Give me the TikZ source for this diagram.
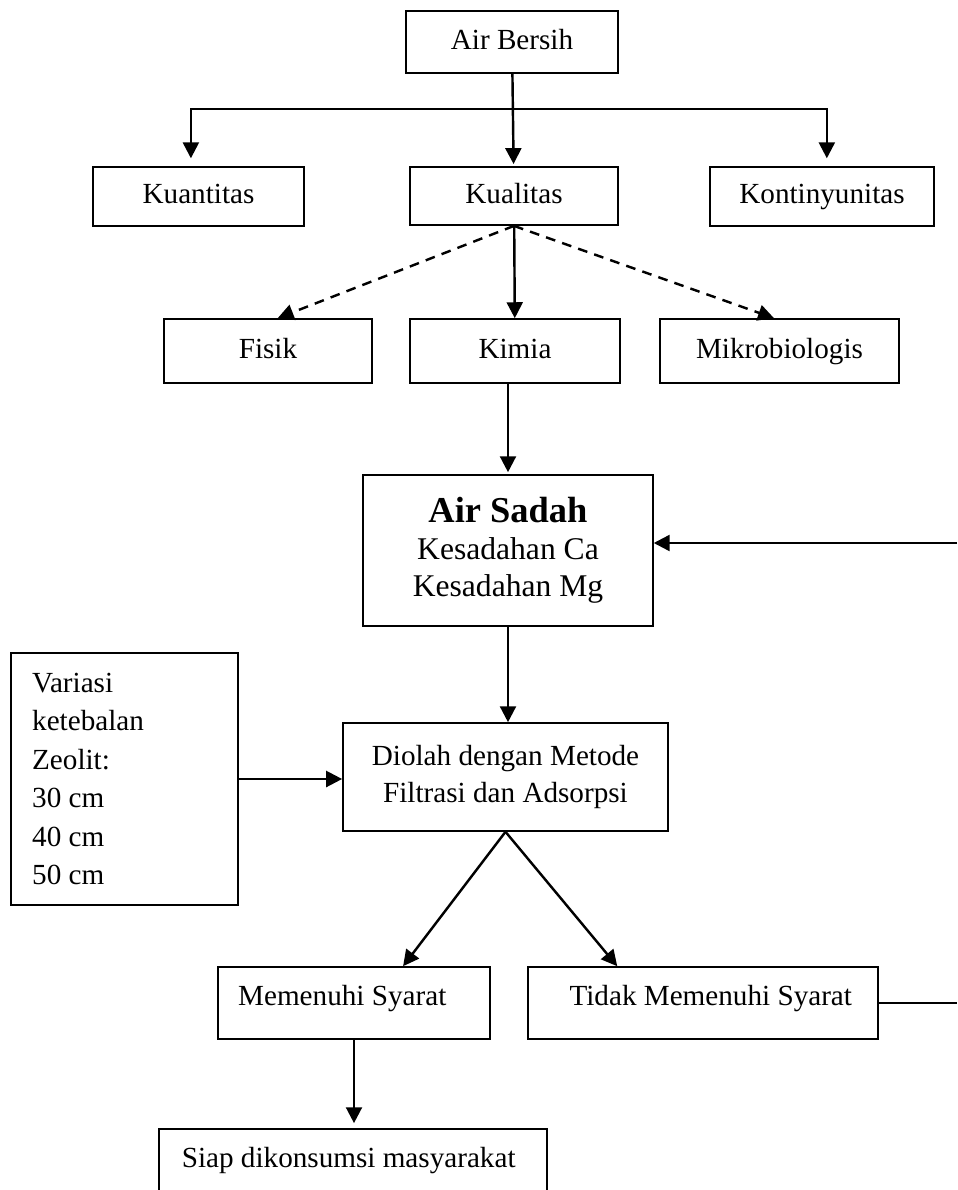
\documentclass[tikz,border=0pt]{standalone}
\usepackage{fontspec}
\setmainfont{Liberation Serif}
\usetikzlibrary{arrows.meta}
\tikzset{
  box/.style  = {rectangle, draw, line width=0.7pt, inner sep=1pt,
                 align=center, font=\fontsize{12}{15.6}\selectfont},
  onel/.style = {box, text height=8.5pt, text depth=2.6pt},
  arr/.style  = {-{Triangle[length=2.3mm, width=2.3mm]}, line width=1pt},
  darr/.style = {arr, dash pattern=on 4pt off 3pt}
}

\begin{document}
\begin{tikzpicture}[x=0.1446mm, y=0.1446mm]
  \useasboundingbox (0,0) rectangle (957,-1190);
  % boxes
  \node[onel, minimum width=30.7mm, minimum height=9mm]   (bersih)   at (512,-42)     {Air Bersih};
  \node[onel, minimum width=30.5mm, minimum height=8.5mm] (kuantitas) at (198.5,-196.5) {Kuantitas};
  \node[onel, minimum width=30.1mm, minimum height=8.4mm] (kualitas) at (514,-196)    {Kualitas};
  \node[onel, minimum width=32.4mm, minimum height=8.5mm] (kontinyu) at (822,-196.5)  {Kontinyunitas};
  \node[onel, minimum width=30.1mm, minimum height=9.25mm] (fisik)   at (268,-351)    {Fisik};
  \node[onel, minimum width=30.4mm, minimum height=9.25mm] (kimia)   at (515,-351)    {Kimia};
  \node[onel, minimum width=34.6mm, minimum height=9.25mm] (mikro)   at (779.5,-351)  {Mikrobiologis};
  \node[box, minimum width=41.9mm, minimum height=21.8mm,
        font=\fontsize{13}{15.2}\selectfont] (sadah) at (508,-550.5)
        {{\fontsize{15}{15.2}\selectfont\bfseries Air Sadah}\\Kesadahan Ca\\Kesadahan Mg};
  \node[box, minimum width=32.8mm, minimum height=36.4mm, text width=26.7mm,
        align=flush left, font=\fontsize{12}{15.8}\selectfont] (variasi) at (124.5,-779)
        {Variasi\\ketebalan\\Zeolit:\\30 cm\\40 cm\\50 cm};
  \node[box, minimum width=47mm, minimum height=15.6mm] (diolah) at (505.5,-777)
        {Diolah dengan Metode\\Filtrasi dan Adsorpsi};
  \node[onel, minimum width=39.3mm, minimum height=10.4mm, text depth=6.8pt,
        text width=33.5mm, align=flush left] (memenuhi) at (354,-1003) {Memenuhi Syarat};
  \node[onel, minimum width=50.6mm, minimum height=10.4mm, text depth=6.8pt,
        text width=43.1mm, align=flush right] (tidak) at (703,-1003) {Tidak Memenuhi Syarat};
  \node[onel, anchor=north, minimum width=56.1mm, minimum height=10.1mm, text depth=5.2pt,
        text width=49.5mm, align=flush left] (siap) at (353,-1128) {Siap dikonsumsi masyarakat};
  \coordinate (loopin)  at (957,-543);
  \coordinate (loopout) at (957,-1003);

  % connectors
  \draw[arr, shorten >=0.3mm] (bersih) -- (kualitas);
  \draw[arr, shorten >=1.15mm] (bersih.south) ++(0,-35) -| ([xshift=-1.1mm]kuantitas.north);
  \draw[arr, shorten >=1.15mm] (bersih.south) ++(0,-35) -| ([xshift=0.7mm]kontinyu.north);
  \draw[darr] (kualitas.south) -- ([xshift=1.4mm]fisik.north);
  \draw[arr] (kualitas) -- (kimia);
  \draw[darr] (kualitas.south) -- ([xshift=-0.8mm]mikro.north);
  \draw[arr, shorten >=0.3mm] (kimia.south -| sadah.north) -- (sadah.north);
  \draw[arr] (loopin) -- (loopin -| sadah.east);
  \draw[arr] (sadah.south) -- (sadah.south |- diolah.north);
  \draw[arr] (variasi.east) -- (variasi.east -| diolah.west);
  \draw[arr] (diolah.south) -- ([xshift=7.1mm]memenuhi.north);
  \draw[arr] (diolah.south) -- ([xshift=-12.4mm]tidak.north);
  \draw[arr, shorten >=0.7mm] (memenuhi) -- (memenuhi.south |- siap.north);
  \draw[line width=1pt] (tidak) -- (loopout);
\end{tikzpicture}
\end{document}
